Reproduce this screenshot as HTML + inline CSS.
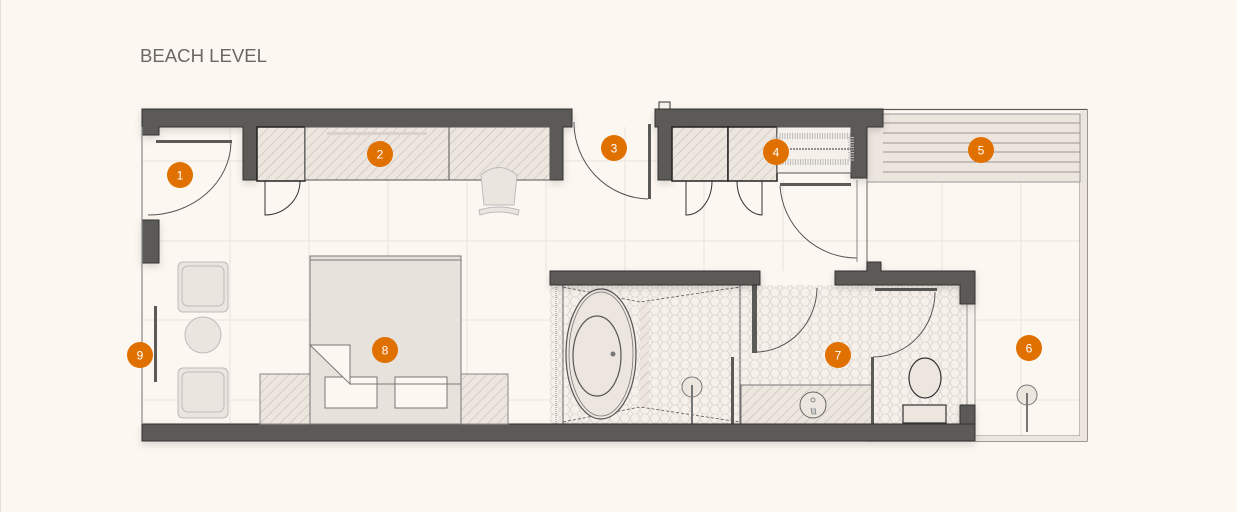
<!DOCTYPE html>
<html><head><meta charset="utf-8"><style>
html,body{margin:0;padding:0;background:#fdf7f1;}
svg{display:block;}
text{font-family:"Liberation Sans",sans-serif;}
</style></head><body>
<svg width="1237" height="512" viewBox="0 0 1237 512" xmlns="http://www.w3.org/2000/svg">
<defs>
<pattern id="h" width="7" height="7" patternUnits="userSpaceOnUse" patternTransform="rotate(45)">
<rect width="7" height="7" fill="#ede6df"/><line x1="0" y1="0" x2="0" y2="7" stroke="#bdb6af" stroke-width="1"/></pattern>
<pattern id="hex" width="10" height="9" patternUnits="userSpaceOnUse">
<rect width="10" height="9" fill="#f7f1eb"/><path d="M0 4.5 L2.5 0 L7.5 0 L10 4.5 L7.5 9 L2.5 9 Z" fill="none" stroke="#ddd5ce" stroke-width="0.8"/></pattern>
<filter id="sh" x="-5%" y="-20%" width="110%" height="140%"><feDropShadow dx="0" dy="3" stdDeviation="4" flood-color="#000" flood-opacity="0.15"/></filter>
</defs>
<rect x="0" y="0" width="1237" height="512" fill="#fdf7f1"/>
<line x1="0.5" y1="0" x2="0.5" y2="512" stroke="#e4ded8"/>
<text x="140" y="62" font-size="18" fill="#6a6866" textLength="127" lengthAdjust="spacingAndGlyphs">BEACH LEVEL</text>

<g stroke="#ebe3dc" stroke-width="1">
<line x1="142" y1="161" x2="1080" y2="161"/><line x1="142" y1="241" x2="1080" y2="241"/><line x1="142" y1="320" x2="550" y2="320"/><line x1="975" y1="320" x2="1080" y2="320"/><line x1="142" y1="400" x2="550" y2="400"/><line x1="975" y1="400" x2="1080" y2="400"/>
<line x1="230" y1="127" x2="230" y2="424"/><line x1="309" y1="180" x2="309" y2="424"/><line x1="388" y1="180" x2="388" y2="424"/><line x1="467" y1="180" x2="467" y2="424"/><line x1="546" y1="127" x2="546" y2="271"/><line x1="625" y1="127" x2="625" y2="271"/><line x1="704" y1="180" x2="704" y2="271"/><line x1="783" y1="180" x2="783" y2="271"/><line x1="942" y1="182" x2="942" y2="271"/><line x1="1021" y1="182" x2="1021" y2="441"/>
</g>

<rect x="867" y="109.5" width="220" height="331.5" fill="none" stroke="#5c5a56" stroke-width="1.2"/>
<rect x="867" y="114" width="213" height="322" fill="none" stroke="#8a8580" stroke-width="1"/>
<rect x="975" y="436" width="105" height="5" fill="#ede6df"/>
<rect x="1080" y="110" width="7" height="331" fill="#ede6df"/>
<rect x="867" y="114" width="213" height="68" fill="#ede6df" stroke="#999" stroke-width="1"/>
<g stroke="#9a958f" stroke-width="1"><line x1="883" y1="123" x2="1080" y2="123"/><line x1="883" y1="133" x2="1080" y2="133"/><line x1="883" y1="143" x2="1080" y2="143"/><line x1="883" y1="152" x2="1080" y2="152"/><line x1="883" y1="162" x2="1080" y2="162"/><line x1="883" y1="172" x2="1080" y2="172"/></g>

<rect x="550" y="285" width="425" height="139" fill="url(#hex)"/>
<path d="M563 287 L640 302 L740 287 M563 422 L640 407 L740 422" stroke="#555" stroke-width="0.8" stroke-dasharray="3,2" fill="none"/>
<rect x="640" y="302" width="9" height="105" fill="url(#h)"/>
<line x1="556" y1="287" x2="556" y2="424" stroke="#888" stroke-dasharray="1,1"/>
<line x1="563" y1="285" x2="563" y2="424" stroke="#666"/>
<line x1="740" y1="285" x2="740" y2="424" stroke="#666"/>
<ellipse cx="601" cy="354" rx="35" ry="65" fill="#ede6df" stroke="#555" stroke-width="1.2"/>
<ellipse cx="601" cy="354" rx="32" ry="62" fill="none" stroke="#777" stroke-width="0.8"/>
<ellipse cx="597" cy="356" rx="24" ry="40" fill="#ede6df" stroke="#555" stroke-width="1.2"/>
<circle cx="613" cy="354" r="2.5" fill="#777"/>
<circle cx="692" cy="387" r="10" fill="#ede6df" stroke="#777"/><line x1="692" y1="385" x2="692" y2="424" stroke="#777" stroke-width="2"/>
<rect x="731" y="357" width="3" height="67" fill="#5c5a56"/>
<rect x="741" y="385" width="131" height="39" fill="url(#h)" stroke="#777"/>
<circle cx="813" cy="405" r="13" fill="#ede6df" stroke="#666"/><circle cx="813" cy="400" r="2" fill="none" stroke="#888"/><path d="M811 408 L812 414 L816 414 L815 408" fill="#ccc" stroke="#666" stroke-width="0.6"/>
<rect x="752" y="285" width="5" height="68" fill="#5c5a56"/>
<path d="M757 352 A62 65 0 0 0 817 288" fill="none" stroke="#555"/>
<rect x="871" y="357" width="3" height="67" fill="#5c5a56"/>
<path d="M873 357 A62 65 0 0 0 935 292" fill="none" stroke="#555"/>
<rect x="875" y="288" width="62" height="3" fill="#5c5a56"/>
<ellipse cx="925" cy="378" rx="16" ry="20" fill="#ede6df" stroke="#333" stroke-width="1.2"/>
<rect x="903" y="405" width="43" height="18" fill="#ede6df" stroke="#333" stroke-width="1.2"/>
<rect x="967" y="304" width="8" height="101" fill="#f5f0ea" stroke="#999"/>
<circle cx="1027" cy="395" r="10" fill="#ede6df" stroke="#777"/><line x1="1027" y1="393" x2="1027" y2="432" stroke="#777" stroke-width="2"/>

<g fill="#5c5a56" stroke="#333" stroke-width="1" filter="url(#sh)">
<path d="M142 109 H572 V127 H563 V180 H550 V127 H257 V180 H243 V127 H159 V135 H142 Z"/>
<path d="M655 109 H883 V127 H867 V178 H851 V127 H672 V180 H658 V127 H655 Z"/>
<rect x="142" y="220" width="17" height="43"/>
<rect x="142" y="424" width="833" height="17"/>
<path d="M550 271 H760 V285 H550 Z"/>
<path d="M835 271 H867 V262 H881 V271 H975 V304 H960 V285 H835 Z"/>
<rect x="960" y="405" width="15" height="19"/>
</g>
<rect x="659" y="102" width="11" height="7" fill="#f5f0ea" stroke="#333"/>
<line x1="142" y1="127" x2="142" y2="424" stroke="#888" stroke-width="1.2"/>
<rect x="154" y="306" width="3" height="76" fill="#5c5a56"/>

<rect x="257" y="127" width="48" height="54" fill="url(#h)" stroke="#222" stroke-width="1.5"/>
<rect x="305" y="127" width="144" height="53" fill="url(#h)" stroke="#555"/>
<rect x="449" y="127" width="101" height="53" fill="url(#h)" stroke="#555"/>
<rect x="327" y="132" width="100" height="3" fill="#d9d2cb"/>
<rect x="672" y="127" width="56" height="54" fill="url(#h)" stroke="#222" stroke-width="1.5"/>
<rect x="728" y="127" width="49" height="54" fill="url(#h)" stroke="#222" stroke-width="1.5"/>
<rect x="777" y="127" width="74" height="46" fill="#f5f0ea" stroke="#555"/>
<rect x="777" y="136" width="74" height="26" fill="none" stroke="#bbb" stroke-dasharray="1,1.5" stroke-width="6"/>
<line x1="790" y1="149" x2="851" y2="149" stroke="#333" stroke-dasharray="2,1"/>
<path d="M265 181 V215 A35 34 0 0 0 300 181" fill="none" stroke="#333"/>
<path d="M686 181 V215 A26 34 0 0 0 712 181" fill="none" stroke="#333"/>
<path d="M762 181 V215 A26 34 0 0 1 737 181" fill="none" stroke="#333"/>
<rect x="156" y="140" width="76" height="3" fill="#5c5a56"/>
<path d="M231 143 A83 74 0 0 1 148 215" fill="none" stroke="#555"/>
<rect x="648" y="124" width="3" height="75" fill="#5c5a56"/>
<path d="M574 122 A76 77 0 0 0 648 199" fill="none" stroke="#555"/>
<rect x="780" y="183" width="71" height="3" fill="#5c5a56"/>
<path d="M780 186 A77 77 0 0 0 857 258" fill="none" stroke="#555"/>
<line x1="857" y1="180" x2="857" y2="262" stroke="#888"/>

<g fill="#ebe5df" stroke="#bbb">
<rect x="178" y="262" width="50" height="50" rx="5"/><rect x="182" y="266" width="42" height="40" rx="6" fill="none"/>
<rect x="178" y="368" width="50" height="50" rx="5"/><rect x="182" y="372" width="42" height="40" rx="6" fill="none"/>
<circle cx="203" cy="335" r="18"/>
<path d="M481 175 Q499 160 517 175 L514 205 H484 Z"/><path d="M479 210 Q499 204 519 210 L518 215 Q499 209 480 215 Z"/>
</g>
<rect x="260" y="374" width="50" height="50" fill="url(#h)" stroke="#888"/>
<rect x="461" y="374" width="47" height="50" fill="url(#h)" stroke="#888"/>
<rect x="310" y="256" width="151" height="168" fill="#e8e2dc" stroke="#777"/>
<line x1="310" y1="260" x2="461" y2="260" stroke="#777"/>
<rect x="325" y="377" width="52" height="31" fill="#fdf7f1" stroke="#777"/>
<rect x="395" y="377" width="52" height="31" fill="#fdf7f1" stroke="#777"/>
<path d="M310 345 H350 V384 Z" fill="#fdf7f1" stroke="#777"/>
<path d="M350 384 H461" stroke="#777"/>

<g font-size="12" fill="#fff" text-anchor="middle">
<circle cx="180" cy="175" r="13" fill="#e07000"/><text x="180" y="179.5">1</text>
<circle cx="380" cy="154" r="13" fill="#e07000"/><text x="380" y="158.5">2</text>
<circle cx="614" cy="148" r="13" fill="#e07000"/><text x="614" y="152.5">3</text>
<circle cx="776" cy="152" r="13" fill="#e07000"/><text x="776" y="156.5">4</text>
<circle cx="981" cy="150" r="13" fill="#e07000"/><text x="981" y="154.5">5</text>
<circle cx="1029" cy="348" r="13" fill="#e07000"/><text x="1029" y="352.5">6</text>
<circle cx="838" cy="355" r="13" fill="#e07000"/><text x="838" y="359.5">7</text>
<circle cx="385" cy="350" r="13" fill="#e07000"/><text x="385" y="354.5">8</text>
<circle cx="140" cy="355" r="13" fill="#e07000"/><text x="140" y="359.5">9</text>
</g>
</svg>
</body></html>
